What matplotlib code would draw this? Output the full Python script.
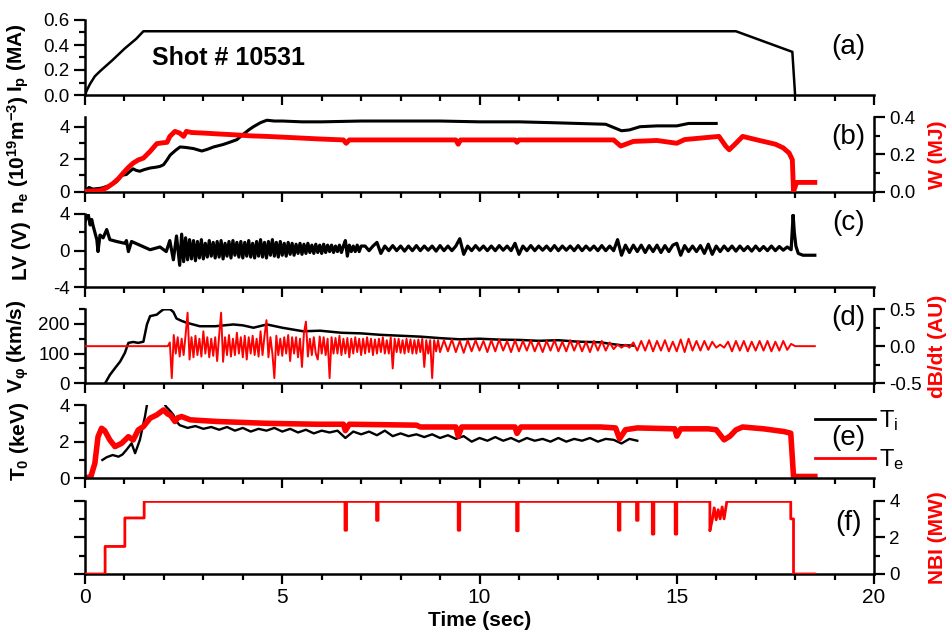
import numpy as np
import matplotlib
matplotlib.use("Agg")
import matplotlib.pyplot as plt
from matplotlib.ticker import MultipleLocator, FormatStrFormatter
from matplotlib.lines import Line2D

plt.rcParams['font.family'] = ['Liberation Sans', 'DejaVu Sans']
plt.rcParams['mathtext.fontset'] = 'custom'
plt.rcParams['mathtext.rm'] = 'Liberation Sans'
plt.rcParams['mathtext.it'] = 'Liberation Sans:italic'
plt.rcParams['mathtext.bf'] = 'Liberation Sans:bold'
plt.rcParams['axes.unicode_minus'] = False

RED = '#ff0000'

# ---- (a) plasma current
t_ip = [0, 0.05, 0.13, 0.25, 0.38, 0.7, 1.0, 1.3, 1.48, 3, 6, 9, 12, 15, 16.5, 17.93, 18.0]
ip = [0, 0.04, 0.09, 0.15, 0.19, 0.28, 0.37, 0.45, 0.51, 0.51, 0.51, 0.51, 0.51, 0.51, 0.51, 0.345, 0.0]

# ---- (b) density and stored energy
t_ne = [0, 0.1, 0.2, 0.4, 0.6, 0.8, 0.93, 1.05, 1.14, 1.22, 1.3, 1.39, 1.5, 1.65, 1.8, 1.9, 1.99,
        2.08, 2.16, 2.3, 2.41, 2.55, 2.75, 2.96, 3.1, 3.26, 3.5, 3.68, 3.85, 4.02, 4.15, 4.27, 4.45,
        4.61, 4.8, 5.0, 5.5, 6, 7, 8, 9, 10, 11, 11.8, 12.5, 13.2, 13.45, 13.6, 13.8, 14.07, 14.5,
        15.0, 15.3, 15.6, 16.0]
ne = [0, 0.25, 0.15, 0.2, 0.35, 0.6, 1.0, 1.05, 1.25, 1.4, 1.3, 1.25, 1.35, 1.45, 1.5, 1.55, 1.65,
      1.95, 2.25, 2.55, 2.75, 2.72, 2.65, 2.5, 2.6, 2.75, 2.9, 3.05, 3.2, 3.55, 3.8, 4.0, 4.25,
      4.4, 4.35, 4.35, 4.3, 4.3, 4.35, 4.35, 4.35, 4.3, 4.3, 4.25, 4.2, 4.15, 3.9, 3.75, 3.8, 4.0, 4.05,
      4.05, 4.2, 4.2, 4.2]

t_w = [0, 0.38, 0.55, 0.72, 0.85, 0.97, 1.1, 1.22, 1.35, 1.48, 1.65, 1.82, 1.95, 2.08, 2.15, 2.28,
       2.4, 2.5, 2.57, 2.7, 3.0, 3.4, 3.76, 4.2, 4.61, 5.3, 5.96, 6.55, 6.62, 6.7, 8, 9.4, 9.46,
       9.52, 10.9, 10.95, 11.0, 12, 13.07, 13.4, 13.58, 13.9, 14.5, 15.0, 15.2, 16.07, 16.24, 16.33,
       16.5, 16.67, 17.1, 17.5, 17.7, 17.85, 17.93, 17.96, 18.04, 18.5]
w_mj = [0, 0.005, 0.02, 0.045, 0.07, 0.1, 0.13, 0.153, 0.17, 0.18, 0.216, 0.258, 0.262, 0.265, 0.297,
        0.324, 0.315, 0.297, 0.324, 0.318, 0.315, 0.31, 0.306, 0.3, 0.297, 0.29, 0.283, 0.278, 0.26,
        0.278, 0.278, 0.278, 0.255, 0.278, 0.278, 0.265, 0.278, 0.278, 0.278, 0.278, 0.245, 0.27, 0.275,
        0.26, 0.28, 0.297, 0.245, 0.225, 0.26, 0.297, 0.275, 0.255, 0.235, 0.207, 0.171, 0.0,
        0.049, 0.049]

# ---- (c) loop voltage
t_lv_start = [0, 0.05, 0.08, 0.13, 0.17, 0.2, 0.25, 0.3, 0.33, 0.38, 0.46, 0.55, 0.63, 0.8, 1.01,
              1.05, 1.1, 1.18, 1.39, 1.65, 1.9, 2.06, 2.15, 2.24, 2.32]
lv_start = [3.2, 3.7, 4.0, 2.8, 3.4, 2.8, 2.0, 1.2, -0.1, 1.7, 1.4, 2.3, 1.2, 1.0, 0.8,
            1.1, -0.1, 1.0, 0.6, 0.1, 0.4, -0.1, 1.1, -1.0, 1.6]
lv_fast_t0, lv_fast_dt = 2.4, 0.05      # 2.4 .. 7.0 s
lv_fast = [-1.6, 1.8, -1.2, 1.4, -1.0, 1.2, -0.9, 1.1, -1.1, 1.0,
           -0.8, 1.2, -0.9, 0.8, -0.7, 1.1, -0.6, 0.9, -0.8, 1.0,
           -0.7, 1.1, -0.9, 0.8, -0.6, 1.0, -0.8, 1.1, -0.5, 0.9,
           -0.7, 1.0, -0.8, 0.9, -0.6, 1.1, -0.7, 0.8, -0.8, 1.0,
           -0.6, 1.2, -0.7, 0.9, -0.8, 1.0, -0.5, 1.2, -0.6, 0.9,
           -0.7, 1.0, -0.5, 0.8, -0.6, 0.9, -0.4, 0.8, -0.5, 0.7,
           -0.3, 0.8, -0.4, 0.7, -0.3, 0.8, -0.2, 0.6, -0.3, 0.7,
           -0.2, 0.6, -0.3, 0.7, -0.2, 0.6, -0.1, 0.6, -0.2, 0.5,
           -0.1, 0.6, -0.2, 0.5, 1.1, -0.6, 0.6, -0.1, 0.5, -0.1,
           0.6, -0.1, 0.5]
lv_slow_t0, lv_slow_dt = 7.1, 0.1       # 7.1 .. 17.9 s
lv_slow = [0.5, 0.0, 0.5, 0.9, -0.3, 0.5, 0.0, 0.55, 0.0, 0.5,
           -0.05, 0.5, 0.0, 0.55, 0.0, 0.5, 0.05, 0.5, -0.05, 0.55,
           0.0, 0.5, 0.0, 0.5, 1.3, -0.4, 0.5, 0.0, 0.55, 0.05,
           0.5, 0.0, 0.5, 0.0, 0.55, 0.05, 0.5, 0.0, 0.8, -0.4,
           0.5, 0.0, 0.55, 0.0, 0.5, 0.05, 0.5, 0.0, 0.55, 0.0,
           0.5, 0.05, 0.5, 0.0, 0.55, 0.0, 0.5, 0.05, 0.5, 0.0,
           0.55, 0.0, 0.5, 0.0, 1.2, -0.5, 0.6, -0.2, 0.6, -0.1,
           0.6, -0.2, 0.55, -0.1, 0.6, -0.2, 0.55, -0.1, 0.6, 0.8,
           -0.5, 0.55, -0.1, 0.5, -0.1, 0.55, -0.3, 0.7, -0.4, 0.5,
           -0.1, 0.5, 0.0, 0.5, -0.05, 0.5, 0.0, 0.45, -0.05, 0.5,
           0.0, 0.45, 0.0, 0.5, 0.0, 0.45, 0.05, 0.4, 0.1]
t_lv_end = [17.95, 17.98, 18.02, 18.08, 18.2, 18.5]
lv_end = [3.9, 2.0, 0.5, -0.3, -0.5, -0.5]

# ---- (d) toroidal rotation and dB/dt
t_v = [0.51, 0.63, 0.76, 0.89, 1.01, 1.1, 1.22, 1.35, 1.48, 1.57, 1.65, 1.82, 1.9, 1.99, 2.16,
       2.24, 2.32, 2.45, 2.57, 2.91, 3.3, 3.76, 4.0, 4.27, 4.61, 5.0, 5.53, 5.96, 6.5, 7.0, 7.5,
       8.0, 8.5, 9.0, 9.5, 10.0, 10.5, 11.0, 11.5, 12.0, 12.5, 13.07, 13.3, 13.6, 13.9]
v_phi = [0, 28, 51, 73, 102, 136, 139, 136, 140, 198, 226, 231, 240, 249, 249,
         240, 218, 210, 204, 192, 192, 198, 195, 187, 198, 187, 175, 177, 170, 168, 163,
         160, 157, 152, 148, 150, 147, 146, 143, 145, 140, 138, 133, 128, 127]

db_fast_t0, db_fast_dt = 2.1, 0.05      # 2.1 .. 9.0 s
db_fast = [0.0, 0.05, -0.43, 0.15, -0.1, 0.12, -0.14, 0.1, -0.12, 0.15,
           0.45, -0.18, 0.12, -0.15, 0.14, -0.12, 0.1, -0.14, 0.2, -0.1,
           0.12, -0.15, 0.1, -0.13, 0.12, -0.2, 0.14, 0.45, -0.21, 0.12,
           -0.12, 0.15, -0.14, 0.1, -0.12, 0.18, -0.1, 0.12, -0.15, 0.14,
           -0.18, 0.12, -0.1, 0.14, -0.12, 0.1, -0.14, 0.2, -0.12, 0.14,
           0.35, -0.15, 0.12, -0.1, -0.43, 0.14, -0.12, 0.1, -0.13, 0.12,
           -0.1, 0.15, -0.2, 0.12, -0.1, 0.12, -0.15, 0.1, -0.28, 0.18,
           0.33, -0.14, 0.1, -0.12, 0.12, -0.1, -0.18, 0.13, -0.1, 0.12,
           -0.12, 0.1, -0.43, 0.12, -0.1, 0.11, -0.1, 0.14, -0.12, 0.1,
           -0.1, 0.11, -0.15, 0.1, -0.1, 0.12, -0.08, 0.1, -0.12, 0.1,
           -0.1, 0.12, -0.08, 0.1, -0.12, 0.09, -0.1, 0.1, -0.08, 0.12,
           -0.1, 0.08, -0.1, 0.12, -0.3, 0.1, -0.08, 0.1, -0.09, 0.08,
           -0.1, 0.1, -0.08, 0.09, -0.1, 0.08, -0.1, 0.09, -0.08, 0.1,
           -0.28, 0.08, -0.1, 0.08, -0.43, 0.08, -0.07, 0.08, -0.08]
db_slow_t0, db_slow_dt = 9.1, 0.1       # 9.1 .. 17.9 s
db_slow = [0.08, -0.07, 0.09, -0.08, 0.07, -0.09, 0.08, -0.07, 0.08, -0.06,
           0.07, -0.08, 0.08, -0.07, 0.09, -0.06, 0.07, -0.08, 0.08, -0.07,
           0.07, -0.06, 0.08, -0.07, 0.06, -0.08, 0.07, -0.06, 0.08, -0.07,
           0.06, -0.07, 0.08, -0.06, 0.07, -0.07, 0.06, -0.08, 0.07, -0.06,
           0.07, -0.06, 0.05, -0.04, 0.02, -0.02, 0.02, -0.02, 0.05, -0.06,
           0.07, -0.06, 0.08, -0.07, 0.07, -0.06, 0.08, -0.07, 0.06, -0.07,
           0.09, -0.08, 0.1, -0.06, 0.07, -0.06, 0.07, -0.05, 0.06, -0.02,
           0.02, -0.02, 0.06, -0.07, 0.07, -0.06, 0.07, -0.07, 0.06, -0.06,
           0.07, -0.06, 0.07, -0.07, 0.06, -0.06, 0.07, -0.05, 0.03]

# ---- (e) central temperatures
t_ti_start = [0.44, 0.55, 0.7, 0.85, 0.95, 1.05, 1.18, 1.27, 1.39, 1.52, 1.57, 1.7, 1.9, 2.0,
              2.06, 2.15, 2.24, 2.32]
ti_start = [1.0, 1.15, 1.27, 1.18, 1.3, 1.55, 1.91, 1.37, 2.09, 3.37, 4.0, 4.6, 4.6, 4.1,
            3.9, 3.7, 3.46, 3.1]
ti_t0, ti_dt = 2.4, 0.2
ti_flat = [2.9, 2.75, 2.85, 2.7, 2.8, 2.65, 2.8, 2.6, 2.75, 2.55,
           2.7, 2.6, 2.75, 2.55, 2.7, 2.5, 2.65, 2.45, 2.6, 2.5,
           2.6, 2.2, 2.55, 2.4, 2.55, 2.35, 2.6, 2.3, 2.45, 2.3,
           2.4, 2.25, 2.4, 2.2, 2.35, 2.15, 2.3, 2.0, 2.2, 2.05,
           2.25, 2.05, 2.2, 2.0, 2.2, 2.05, 2.15, 2.0, 2.2, 2.0,
           2.15, 2.05, 2.2, 2.0, 2.15, 2.1, 1.9, 2.15, 2.05]

t_te = [0, 0.15, 0.25, 0.33, 0.42, 0.5, 0.63, 0.76, 0.93, 1.1, 1.22, 1.35, 1.48, 1.65, 1.82,
        1.99, 2.1, 2.16, 2.28, 2.35, 2.45, 2.67, 3.35, 4.61, 5.88, 6.55, 6.6, 6.7, 8.4, 8.5,
        9.4, 9.46, 9.55, 10.9, 10.95, 11.05, 13.07, 13.45, 13.55, 13.7, 14.0, 14.95, 15.0, 15.1,
        15.8, 16.0, 16.2, 16.35, 16.5, 16.67, 17.2, 17.72, 17.89, 17.96, 18.5]
te = [0, 0.1, 0.82, 2.27, 2.73, 2.6, 2.09, 1.73, 1.91, 2.27, 2.09, 2.64, 2.82, 3.28, 3.46,
      3.73, 3.5, 3.46, 3.1, 3.3, 3.37, 3.19, 3.1, 3.0, 2.95, 2.95, 2.6, 2.95, 2.9, 2.8,
      2.8, 2.3, 2.8, 2.8, 2.45, 2.8, 2.8, 2.75, 2.15, 2.65, 2.75, 2.7, 2.3, 2.7,
      2.7, 2.65, 2.1, 2.3, 2.64, 2.8, 2.7, 2.55, 2.46, 0.1, 0.1]

# ---- (f) NBI power
t_nbi = [0, 0.51, 0.51, 1.01, 1.01, 1.5, 1.5, 6.59, 6.59, 6.63, 6.63, 7.39, 7.39, 7.43, 7.43,
         9.46, 9.46, 9.5, 9.5, 10.94, 10.94, 10.98, 10.98, 13.52, 13.52, 13.56, 13.56, 13.98,
         13.98, 14.02, 14.02, 14.38, 14.38, 14.42, 14.42, 14.96, 14.96, 15.0, 15.0, 15.84, 15.84,
         15.9, 15.95, 16.0, 16.05, 16.1, 16.15, 16.2, 16.27, 17.89, 17.89, 17.96, 17.96, 18.5]
nbi = [0, 0, 1.5, 1.5, 3.05, 3.05, 3.95, 3.95, 2.38, 2.38, 3.95, 3.95, 2.92, 2.92, 3.95,
       3.95, 2.38, 2.38, 3.95, 3.95, 2.35, 2.35, 3.95, 3.95, 2.38, 2.38, 3.95, 3.95,
       2.92, 2.92, 3.95, 3.95, 2.17, 2.17, 3.95, 3.95, 2.17, 2.17, 3.95, 3.95, 2.35,
       2.95, 3.6, 2.95, 3.5, 3.0, 3.65, 3.0, 3.95, 3.95, 3.0, 3.0, 0, 0]


def grid(t0, dt, vals):
    return [t0 + dt * i for i in range(len(vals))]


# ---------------------------------------------------------------- figure
fig = plt.figure(figsize=(9.49, 6.38), dpi=100)
L, W = 85 / 949, 789 / 949
H = 638.0
rows = {'a': (20, 95), 'b': (117.3, 191.5), 'c': (214, 287.3), 'd': (309, 383.3),
        'e': (405, 478.3), 'f': (500.5, 574)}

TICK = 13.5
LAB = 15


def make_ax(key):
    top, bot = rows[key]
    ax = fig.add_axes([L, 1 - bot / H, W, (bot - top) / H])
    ax.set_xlim(0, 20)
    ax.xaxis.set_major_locator(MultipleLocator(5))
    ax.xaxis.set_minor_locator(MultipleLocator(1))
    ax.spines['top'].set_visible(False)
    ax.spines['right'].set_visible(False)
    for s in ('left', 'bottom'):
        ax.spines[s].set_linewidth(1.8)
    ax.tick_params(which='both', direction='out', width=1.6, labelsize=TICK, pad=3)
    ax.tick_params(which='major', length=8)
    ax.tick_params(which='minor', length=4.5)
    ax.tick_params(axis='x', which='major', length=7)
    ax.tick_params(labelbottom=False)
    ax.patch.set_alpha(0)
    return ax


def make_twin(ax):
    tw = ax.twinx()
    for s in ('left', 'top', 'bottom'):
        tw.spines[s].set_visible(False)
    tw.spines['right'].set_linewidth(1.8)
    tw.tick_params(which='both', direction='out', width=1.6, labelsize=TICK, pad=3)
    tw.tick_params(which='major', length=8)
    tw.tick_params(which='minor', length=4.5)
    return tw


def yaxis(ax, lo, hi, major, minor, fmt=None):
    ax.set_ylim(lo, hi)
    ax.yaxis.set_major_locator(MultipleLocator(major))
    ax.yaxis.set_minor_locator(MultipleLocator(minor))
    if fmt:
        ax.yaxis.set_major_formatter(FormatStrFormatter(fmt))


def panel_tag(ax, tag, y):
    ax.text(0.968, y, tag, transform=ax.transAxes, ha='center', va='center', fontsize=20)


LX, RX = -0.068, 1.068

# (a)
ax_a = make_ax('a')
ax_a.plot(t_ip, ip, color='k', lw=1.8)
yaxis(ax_a, 0, 0.6, 0.2, 0.1, '%.1f')
ax_a.set_ylabel(r'$\mathbf{I_p}$ (MA)', fontsize=LAB, fontweight='bold')
ax_a.yaxis.set_label_coords(LX, 0.5)
ax_a.text(0.085, 0.49, 'Shot # 10531', transform=ax_a.transAxes, fontsize=18,
          fontweight='bold', va='center')
panel_tag(ax_a, '(a)', 0.64)

# (b)
ax_b = make_ax('b')
ax_b.plot(t_ne, ne, color='k', lw=2.2)
yaxis(ax_b, 0, 4.58, 2, 1)
ax_b.set_ylabel(r'$\mathbf{n_e}$ ($\mathbf{10^{19}m^{-3}}$)', fontsize=LAB, fontweight='bold')
ax_b.yaxis.set_label_coords(LX, 0.5)
tw_b = make_twin(ax_b)
tw_b.plot(t_w, w_mj, color=RED, lw=3.5)
yaxis(tw_b, 0, 0.4, 0.2, 0.1, '%.1f')
tw_b.set_ylabel('W (MJ)', fontsize=LAB, fontweight='bold', color=RED)
tw_b.yaxis.set_label_coords(RX, 0.5)
panel_tag(ax_b, '(b)', 0.73)

# (c)
ax_c = make_ax('c')
t_lv = (t_lv_start + grid(lv_fast_t0, lv_fast_dt, lv_fast)
        + grid(lv_slow_t0, lv_slow_dt, lv_slow) + t_lv_end)
lv = lv_start + lv_fast + lv_slow + lv_end
ax_c.plot(t_lv, lv, color='k', lw=2.3)
yaxis(ax_c, -4, 4, 4, 2)
ax_c.set_ylabel('LV (V)', fontsize=LAB, fontweight='bold')
ax_c.yaxis.set_label_coords(LX, 0.5)
panel_tag(ax_c, '(c)', 0.877)

# (d)
ax_d = make_ax('d')
ax_d.plot(t_v, v_phi, color='k', lw=1.8)
yaxis(ax_d, 0, 250, 100, 50)
ax_d.set_ylabel(r'$\mathbf{V_\varphi}$ (km/s)', fontsize=LAB, fontweight='bold')
ax_d.yaxis.set_label_coords(LX, 0.5)
tw_d = make_twin(ax_d)
t_db = ([0.0] + grid(db_fast_t0, db_fast_dt, db_fast)
        + grid(db_slow_t0, db_slow_dt, db_slow) + [18.0, 18.5])
db = [0.0] + db_fast + db_slow + [0.0, 0.0]
tw_d.plot(t_db, db, color=RED, lw=1.4)
yaxis(tw_d, -0.5, 0.5, 0.5, 0.25, '%.1f')
tw_d.set_ylabel('dB/dt (AU)', fontsize=LAB, fontweight='bold', color=RED)
tw_d.yaxis.set_label_coords(RX, 0.5)
panel_tag(ax_d, '(d)', 0.878)

# (e)
ax_e = make_ax('e')
t_ti = t_ti_start + grid(ti_t0, ti_dt, ti_flat)
ti = ti_start + ti_flat
ax_e.plot(t_ti, ti, color='k', lw=1.7)
ax_e.plot(t_te, te, color=RED, lw=4)
yaxis(ax_e, 0, 4, 2, 1)
ax_e.set_ylabel(r'$\mathbf{T_0}$ (keV)', fontsize=LAB, fontweight='bold')
ax_e.yaxis.set_label_coords(LX, 0.5)
panel_tag(ax_e, '(e)', 0.548)
handles = [Line2D([], [], color='k', lw=2), Line2D([], [], color=RED, lw=2)]
ax_e.legend(handles, [r'T$_\mathregular{i}$', r'T$_\mathregular{e}$'],
            loc='center left', bbox_to_anchor=(0.925, 0.52), frameon=False,
            fontsize=17, handlelength=2.55, handletextpad=0.15, borderpad=0,
            borderaxespad=0, labelspacing=0.6)

# (f)
ax_f = make_ax('f')
yaxis(ax_f, 0, 4, 2, 1)
ax_f.tick_params(labelleft=False)
ax_f.tick_params(labelbottom=True, labelsize=15)
ax_f.set_xlabel('Time (sec)', fontsize=LAB, fontweight='bold', labelpad=3)
tw_f = make_twin(ax_f)
tw_f.plot(t_nbi, nbi, color=RED, lw=2)
yaxis(tw_f, 0, 4, 2, 1)
tw_f.set_ylabel('NBI (MW)', fontsize=LAB, fontweight='bold', color=RED)
tw_f.yaxis.set_label_coords(RX, 0.5)
panel_tag(ax_f, '(f)', 0.70)

fig.savefig('out.png', dpi=100)
